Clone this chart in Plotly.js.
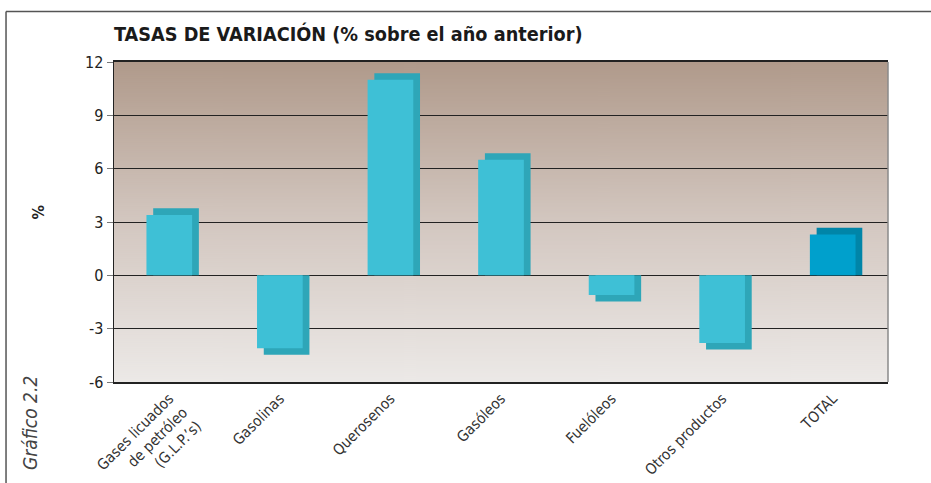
<!DOCTYPE html>
<html><head><meta charset="utf-8">
<script src="https://cdn.plot.ly/plotly-3.0.1.min.js"></script>
<style>html,body{margin:0;padding:0;background:#fff;}#chart{width:931px;height:483px;}</style>
</head><body><div id="chart"></div>
<script>
const categories = ['Gases licuados<br>de petróleo<br>(G.L.P.’s)', 'Gasolinas', 'Querosenos', 'Gasóleos', 'Fuelóleos', 'Otros productos', 'TOTAL'];
const values = [3.4, -4.1, 11.0, 6.5, -1.1, -3.8, 2.3];
const yTicks = [-6, -3, 0, 3, 6, 9, 12];

const FONT = '"Liberation Sans Narrow", "DejaVu Sans Condensed", "Arial Narrow", sans-serif';
const frontColors = categories.map((c, i) => i === categories.length - 1 ? '#00a0cc' : '#3ec0d6');
const sideColors = categories.map((c, i) => i === categories.length - 1 ? '#0085a8' : '#2ea6b8');

// depth of the pseudo-3D effect (in axis units)
const depthX = 0.061, depthY = 0.37, barW = 0.413;
const depthValues = values.map(v => v + Math.sign(v) * depthY);

// background gradient for the plotting area
const cv = document.createElement('canvas');
cv.width = 4; cv.height = 320;
const ctx = cv.getContext('2d');
const g = ctx.createLinearGradient(0, 0, 0, 320);
g.addColorStop(0, '#b09a8b');
g.addColorStop(0.5, '#d3c7c0');
g.addColorStop(1, '#ece9e7');
ctx.fillStyle = g; ctx.fillRect(0, 0, 4, 320);
const bgURL = cv.toDataURL();

const traces = [
  {type: 'bar', x: categories, y: depthValues, width: barW, offset: -barW / 2 + depthX,
   marker: {color: sideColors, line: {width: 0}}, hoverinfo: 'skip', showlegend: false},
  {type: 'bar', x: categories, y: values, width: barW, offset: -barW / 2,
   marker: {color: frontColors, line: {width: 0}}, showlegend: false}
];

const layout = {
  width: 931, height: 483,
  margin: {l: 114, r: 43, t: 62, b: 101},
  paper_bgcolor: '#ffffff', plot_bgcolor: 'rgba(0,0,0,0)',
  barmode: 'overlay',
  font: {family: FONT, color: '#222'},
  title: {text: '<b>TASAS DE VARIACIÓN (% sobre el año anterior)</b>', x: 0, xref: 'paper', xanchor: 'left',
          y: 0.93, yref: 'container', yanchor: 'middle',
          font: {family: FONT, size: 19.7, color: '#1a1a1a'}},
  xaxis: {type: 'category', tickangle: -45, tickfont: {family: FONT, size: 15, color: '#333'},
          showline: true, linecolor: '#222', linewidth: 2, mirror: true, ticks: '', showgrid: false},
  yaxis: {range: [-6, 12], tickvals: yTicks, ticktext: yTicks.map(String), ticks: 'outside', ticklen: 6, tickcolor: '#777',
          tickfont: {family: FONT, size: 16, color: '#222'}, showline: true, linecolor: '#222', linewidth: 1.5,
          showgrid: true, gridcolor: '#222', gridwidth: 1, zeroline: true, zerolinecolor: '#222', zerolinewidth: 1},
  images: [{source: bgURL, xref: 'paper', yref: 'paper', x: 0, y: 1, sizex: 1, sizey: 1,
            xanchor: 'left', yanchor: 'top', sizing: 'stretch', layer: 'below'}],
  shapes: [
    {type: 'line', xref: 'paper', yref: 'paper', x0: 1, x1: 1, y0: 0, y1: 1, line: {color: '#8a8a8a', width: 1.5}},
    {type: 'line', xref: 'paper', yref: 'paper', x0: -0.1395, x1: 1.2, y0: 1.158, y1: 1.158, line: {color: '#555', width: 1.5}},
    {type: 'line', xref: 'paper', yref: 'paper', x0: -0.1395, x1: -0.1395, y0: 1.158, y1: -0.35, line: {color: '#555', width: 1.5}}
  ],
  annotations: [
    {text: '<b>%</b>', xref: 'paper', yref: 'paper', x: -0.098, y: 0.53, xanchor: 'center', yanchor: 'middle',
     textangle: -90, showarrow: false, font: {family: FONT, size: 16, color: '#222'}},
    {text: '<i>Gráfico 2.2</i>', xref: 'paper', yref: 'paper', x: -0.1085, y: -0.128, xanchor: 'center', yanchor: 'middle',
     textangle: -90, showarrow: false, font: {family: FONT, size: 19, color: '#444'}}
  ]
};

Plotly.newPlot('chart', traces, layout, {displayModeBar: false, staticPlot: true});
</script></body></html>
